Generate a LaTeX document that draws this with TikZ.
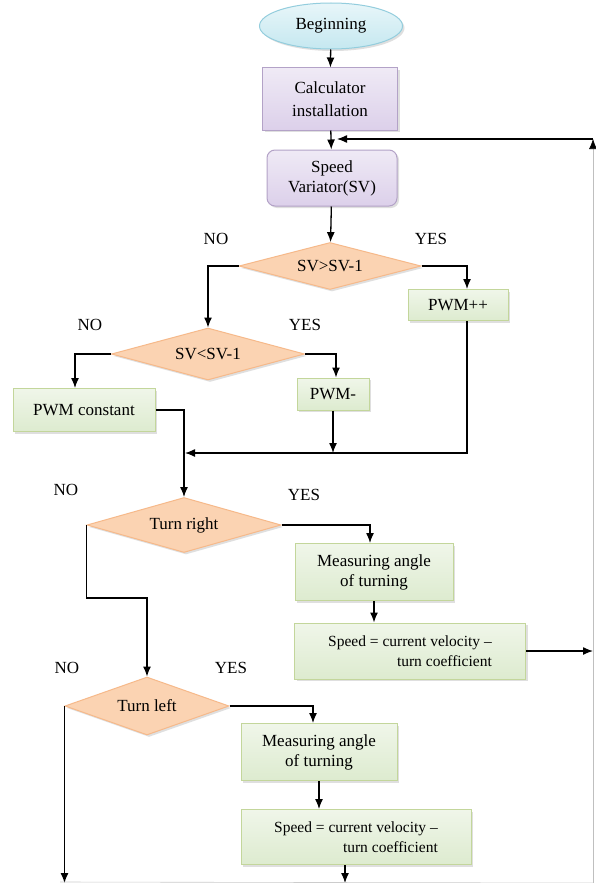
\documentclass[tikz,border=0pt]{standalone}
\usepackage{fontspec}
\setmainfont{Liberation Serif}
\usetikzlibrary{shapes.geometric,arrows.meta,shadows}
\definecolor{startfill}{HTML}{C5E8F0}
\definecolor{startline}{HTML}{93CDDD}
\definecolor{initfill}{HTML}{DCD0EA}
\definecolor{initline}{HTML}{B3A2C7}
\definecolor{testfill}{HTML}{FBD3B2}
\definecolor{testline}{HTML}{F6B98A}
\definecolor{opfill}{HTML}{DDEBCF}
\definecolor{opline}{HTML}{C3D69B}

\begin{document}
\begin{tikzpicture}[x=1pt,y=-1pt,
  every node/.style={font=\fontsize{17}{20}\selectfont},
  shade/.style={drop shadow={opacity=0.25,shadow xshift=2pt,shadow yshift=-2pt}},
  startbox/.style={ellipse,draw=startline,top color=startfill!40!white,bottom color=startfill,line width=1pt,inner sep=0pt,shade},
  initbox/.style={rectangle,draw=initline,top color=initfill!45!white,bottom color=initfill,line width=1pt,align=center,inner sep=0pt,shade},
  testbox/.style={diamond,aspect=4,draw=testline,fill=testfill,line width=1pt,inner sep=0pt,shade},
  opbox/.style={rectangle,draw=opline,top color=opfill!45!white,bottom color=opfill,line width=1pt,align=center,inner sep=0pt,shade},
  arr/.style={draw=black,line width=1.3pt,-{Latex[length=10pt,width=8pt]}},
  rimline/.style={draw=black!25,line width=0.6pt,-{Latex[length=10pt,width=8pt,color=black]}}]
\useasboundingbox[fill=white] (0,0) rectangle (595,883);
% boxes
\node[startbox,minimum width=143pt,minimum height=46pt] (begin) at (331,26) {Beginning};
\node[initbox,minimum width=135pt,minimum height=62pt,font=\fontsize{17}{23}\selectfont] (calc) at (330,99) {Calculator\\installation};
\node[initbox,rounded corners=8pt,minimum width=130pt,minimum height=56pt] (sv) at (332,178) {Speed\\Variator(SV)};
\node[testbox,minimum width=182pt,minimum height=47pt] (gt) at (330,266) {SV>SV-1};
\node[opbox,minimum width=100pt,minimum height=31pt] (pwmup) at (458,305) {PWM++};
\node[testbox,minimum width=193pt,minimum height=52pt] (lt) at (208,354) {SV<SV-1};
\node[opbox,minimum width=142pt,minimum height=43pt] (pwmc) at (84,410) {PWM constant};
\node[opbox,minimum width=72pt,minimum height=32pt] (pwmdn) at (333,394) {PWM-};
\coordinate (join) at (185,453);
\node[testbox,minimum width=194pt,minimum height=55pt] (right) at (184,525) {Turn right};
\node[opbox,minimum width=158pt,minimum height=57pt] (angr) at (374,572) {Measuring angle\\of turning};
\node[opbox,align=right,minimum width=231pt,minimum height=56pt,font=\fontsize{15.5}{20}\selectfont] (speedr) at (410,651) {Speed = current velocity –\\turn coefficient};
\coordinate (bend) at (147,598);
\node[testbox,minimum width=164pt,minimum height=58pt] (left) at (147,706) {Turn left};
\node[opbox,minimum width=156pt,minimum height=57pt] (angl) at (319,752) {Measuring angle\\of turning};
\node[opbox,align=right,minimum width=230pt,minimum height=55pt,font=\fontsize{15.5}{20}\selectfont] (speedl) at (356,837) {Speed = current velocity –\\turn coefficient};
\coordinate (fb) at (593,139);
\coordinate (rim) at (593,883);
% labels
\node (no1) at (216,239) {NO};
\node (yes1) at (431,239) {YES};
\node (no2) at (90,325) {NO};
\node (yes2) at (305,325) {YES};
\node (no3) at (66,490) {NO};
\node (yes3) at (304,495) {YES};
\node (no4) at (67,668) {NO};
\node (yes4) at (231,668) {YES};
% connectors
\draw[arr] (begin) -- (calc);
\draw[arr] (calc) -- (sv);
\draw[arr] (sv) -- (gt);
\draw[arr] (gt.east) -| ([xshift=9pt]pwmup.north);
\draw[arr] (gt.west) -| (lt.north);
\draw[arr] (lt.east) -| ([xshift=3pt]pwmdn.north);
\draw[arr] (lt.west) -| ([xshift=-9pt]pwmc.north);
\draw[arr] ([xshift=9pt]pwmup.south) |- (join);
\draw[arr] (pwmdn.south) -- (pwmdn.south |- join);
\draw[arr] (pwmc.east) -| (right.north);
\draw[arr] (right.east) -| ([xshift=-4pt]angr.north);
\draw[arr] (angr.south) -- (angr.south |- speedr.north);
\draw[arr] (speedr.east) -- (speedr.east -| fb);
\draw[arr] (right.west) |- (bend) -- (left.north);
\draw[arr] (left.east) -| ([xshift=-6pt]angl.north);
\draw[arr] (angl.south) -- (angl.south |- speedl.north);
\draw[arr] ([xshift=-11pt]speedl.south) -- ([xshift=-11pt]speedl.south |- rim);
\draw[arr] (left.west) -- (left.west |- rim);
\draw[black!20,line width=0.6pt] (60,882) -- (rim);
\draw[rimline] (rim) -- (fb);
\draw[arr] (fb) -- ([xshift=7pt]calc.south |- fb);
\end{tikzpicture}
\end{document}
